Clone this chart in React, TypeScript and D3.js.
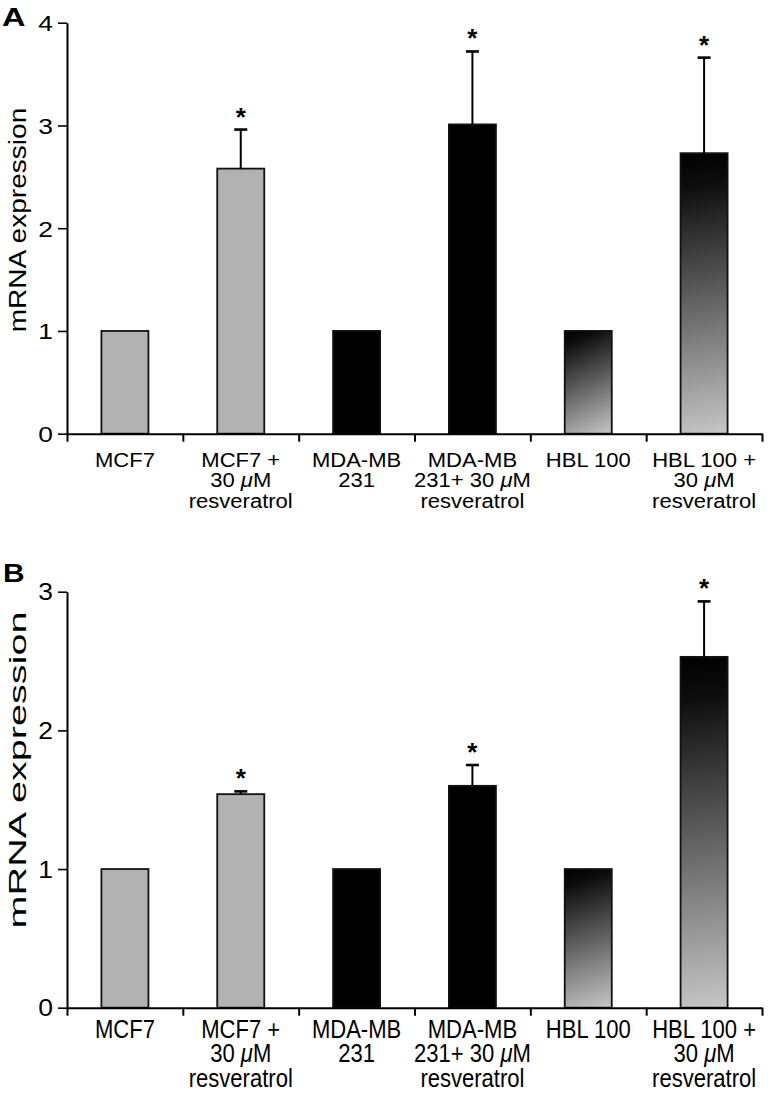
import React, { useEffect, useRef } from 'react';
import * as d3 from 'd3';

// ---- data ----
const categories = [
  'MCF7',
  'MCF7 + 30 μM resveratrol',
  'MDA-MB 231',
  'MDA-MB 231+ 30 μM resveratrol',
  'HBL 100',
  'HBL 100 + 30 μM resveratrol',
];
const categoryLines: string[][] = [
  ['MCF7'],
  ['MCF7 +', '30 μM', 'resveratrol'],
  ['MDA-MB', '231'],
  ['MDA-MB', '231+ 30 μM', 'resveratrol'],
  ['HBL 100'],
  ['HBL 100 +', '30 μM', 'resveratrol'],
];
const cellLines = ['MCF7', 'MCF7', 'MDA', 'MDA', 'HBL', 'HBL'];
const panelAValues = [1, 2.58, 1, 3.01, 1, 2.73];
const panelAErrors = [0, 0.38, 0, 0.71, 0, 0.93];
const panelASignificant = [false, true, false, true, false, true];
const panelBValues = [1, 1.54, 1, 1.6, 1, 2.53];
const panelBErrors = [0, 0.02, 0, 0.15, 0, 0.4];
const panelBSignificant = [false, true, false, true, false, true];
const panelATicks = [0, 1, 2, 3, 4];
const panelBTicks = [0, 1, 2, 3];
const yAxisTitle = 'mRNA expression';

const FONT = "'Liberation Sans', Arial, Helvetica, sans-serif";

type PanelOpts = {
  letter: string;
  values: number[];
  errors: number[];
  sig: boolean[];
  ticks: number[];
  yMax: number;
  yBottom: number;
  yTop: number;
  letterX: number;
  letterBase: number;
  letterSize: number;
  letterSx: number;
  tickFont: number;
  tickSx: number;
  labelBase: number;
  labelGap: number;
  labelFont: number;
  labelSx: number;
  labelSy: number;
  titleCenter: number;
  titleFont: number;
  titleAlong: number;
};

function drawPanel(svg: d3.Selection<SVGSVGElement, unknown, null, undefined>, o: PanelOpts) {
  const g = svg.append('g');
  const defs = svg.select<SVGDefsElement>('defs');
  const left = 67;
  const right = 762;
  const x = d3
    .scaleBand<string>()
    .domain(categories)
    .range([left, right])
    .paddingInner(0.594)
    .paddingOuter(0.297);
  const idx = d3.scaleLinear().domain([0, categories.length]).range([left, right]);
  const y = d3.scaleLinear().domain([0, o.yMax]).range([o.yBottom, o.yTop]);

  // per-bar gradients for HBL 100 bars (user space, top-left dark -> bottom-right light)
  o.values.forEach((v, i) => {
    if (cellLines[i] !== 'HBL') return;
    const bx = x(categories[i])!;
    const gr = defs
      .append('linearGradient')
      .attr('id', `grad${o.letter}${i}`)
      .attr('gradientUnits', 'userSpaceOnUse')
      .attr('x1', bx)
      .attr('y1', y(v))
      .attr('x2', bx + x.bandwidth())
      .attr('y2', y(0));
    gr.append('stop').attr('offset', 0).attr('stop-color', '#000');
    gr.append('stop').attr('offset', 0.12).attr('stop-color', '#0d0d0d');
    gr.append('stop').attr('offset', 1).attr('stop-color', '#c6c6c6');
  });

  const fillFor = (i: number) =>
    cellLines[i] === 'MCF7' ? '#b2b2b2' : cellLines[i] === 'MDA' ? '#000' : `url(#grad${o.letter}${i})`;

  // bars
  g.selectAll('rect.bar')
    .data(o.values)
    .join('rect')
    .attr('class', 'bar')
    .attr('x', (_d, i) => x(categories[i])!)
    .attr('width', x.bandwidth())
    .attr('y', (d) => y(d))
    .attr('height', (d) => y(0) - y(d))
    .attr('fill', (_d, i) => fillFor(i))
    .attr('stroke', '#111')
    .attr('stroke-width', 1.8);

  // error bars
  const errIdx = o.values.map((_v, i) => i).filter((i) => o.errors[i] > 0);
  errIdx.forEach((i) => {
    const cx = x(categories[i])! + x.bandwidth() / 2;
    const top = y(o.values[i] + o.errors[i]);
    g.append('line')
      .attr('x1', cx)
      .attr('x2', cx)
      .attr('y1', y(o.values[i]))
      .attr('y2', top)
      .attr('stroke', '#000')
      .attr('stroke-width', 2);
    g.append('line')
      .attr('x1', cx - 6.5)
      .attr('x2', cx + 6.5)
      .attr('y1', top)
      .attr('y2', top)
      .attr('stroke', '#000')
      .attr('stroke-width', 2.6);
    if (o.sig[i]) {
      g.append('text')
        .attr('x', cx)
        .attr('y', top - 4)
        .attr('text-anchor', 'middle')
        .attr('font-family', FONT)
        .attr('font-weight', 'bold')
        .attr('font-size', 26)
        .text('*');
    }
  });

  // y axis
  const yAxis = g
    .append('g')
    .attr('transform', `translate(${left},0)`)
    .call(d3.axisLeft(y).tickValues(o.ticks).tickSize(9).tickSizeOuter(0).tickFormat(d3.format('d')));
  yAxis.select('.domain').attr('stroke', '#000').attr('stroke-width', 2);
  yAxis.selectAll('.tick line').attr('stroke', '#000').attr('stroke-width', 1.6);
  yAxis
    .selectAll('.tick text')
    .attr('x', 0)
    .attr('dy', null)
    .attr('y', 0)
    .attr('transform', `translate(-14,${o.tickFont * 0.358}) scale(${o.tickSx},1)`)
    .attr('font-family', FONT)
    .attr('font-size', o.tickFont)
    .attr('fill', '#000');

  // x axis
  const xAxis = g
    .append('g')
    .attr('transform', `translate(0,${o.yBottom})`)
    .call(
      d3
        .axisBottom(idx)
        .tickValues(d3.range(categories.length + 1))
        .tickSize(8)
        .tickSizeOuter(0)
        .tickFormat(() => '')
    );
  xAxis.select('.domain').attr('stroke', '#000').attr('stroke-width', 2);
  xAxis.selectAll('.tick line').attr('stroke', '#000').attr('stroke-width', 2);

  // category labels
  categoryLines.forEach((lines, i) => {
    const cx = x(categories[i])! + x.bandwidth() / 2;
    const t = g
      .append('text')
      .attr('transform', `translate(${cx},${o.labelBase}) scale(${o.labelSx},${o.labelSy})`)
      .attr('text-anchor', 'middle')
      .attr('font-family', FONT)
      .attr('font-size', o.labelFont)
      .attr('fill', '#000');
    lines.forEach((line, li) => {
      const parts = line.split('μ');
      const base = t
        .append('tspan')
        .attr('x', 0)
        .attr('y', (li * o.labelGap) / o.labelSy);
      parts.forEach((p, pi) => {
        if (pi > 0) base.append('tspan').attr('font-style', 'italic').text('μ');
        base.append('tspan').text(p);
      });
    });
  });

  // y title
  g.append('text')
    .attr('transform', `translate(26,${o.titleCenter}) rotate(-90) scale(${o.titleAlong},1)`)
    .attr('text-anchor', 'middle')
    .attr('font-family', FONT)
    .attr('font-size', o.titleFont)
    .attr('fill', '#000')
    .text(yAxisTitle);

  // panel letter
  g.append('text')
    .attr('transform', `translate(${o.letterX},${o.letterBase}) scale(${o.letterSx},1)`)
    .attr('font-family', FONT)
    .attr('font-weight', 'bold')
    .attr('font-size', o.letterSize)
    .attr('fill', '#000')
    .text(o.letter);
}

export default function App() {
  const ref = useRef<SVGSVGElement>(null);
  useEffect(() => {
    const svg = d3.select(ref.current!);
    svg.selectAll('*').remove();
    svg.append('defs');

    drawPanel(svg, {
      letter: 'A',
      values: panelAValues,
      errors: panelAErrors,
      sig: panelASignificant,
      ticks: panelATicks,
      yMax: 4,
      yBottom: 433.7,
      yTop: 22.7,
      letterX: 2,
      letterBase: 26,
      letterSize: 25,
      letterSx: 1.3,
      tickFont: 22,
      tickSx: 1.2,
      labelBase: 466.7,
      labelGap: 20.7,
      labelFont: 19.5,
      labelSx: 1.13,
      labelSy: 1,
      titleCenter: 220,
      titleFont: 24,
      titleAlong: 1.17,
    });
    drawPanel(svg, {
      letter: 'B',
      values: panelBValues,
      errors: panelBErrors,
      sig: panelBSignificant,
      ticks: panelBTicks,
      yMax: 3,
      yBottom: 1007.7,
      yTop: 591.7,
      letterX: 3,
      letterBase: 582,
      letterSize: 26,
      letterSx: 1.15,
      tickFont: 23,
      tickSx: 1.15,
      labelBase: 1037.5,
      labelGap: 25,
      labelFont: 21,
      labelSx: 1.05,
      labelSy: 1.2,
      titleCenter: 770,
      titleFont: 24,
      titleAlong: 1.65,
    });
  }, []);
  return (
    <svg
      ref={ref}
      width={771}
      height={1093}
      style={{ position: 'absolute', left: 0, top: 0, background: '#fff' }}
    />
  );
}
